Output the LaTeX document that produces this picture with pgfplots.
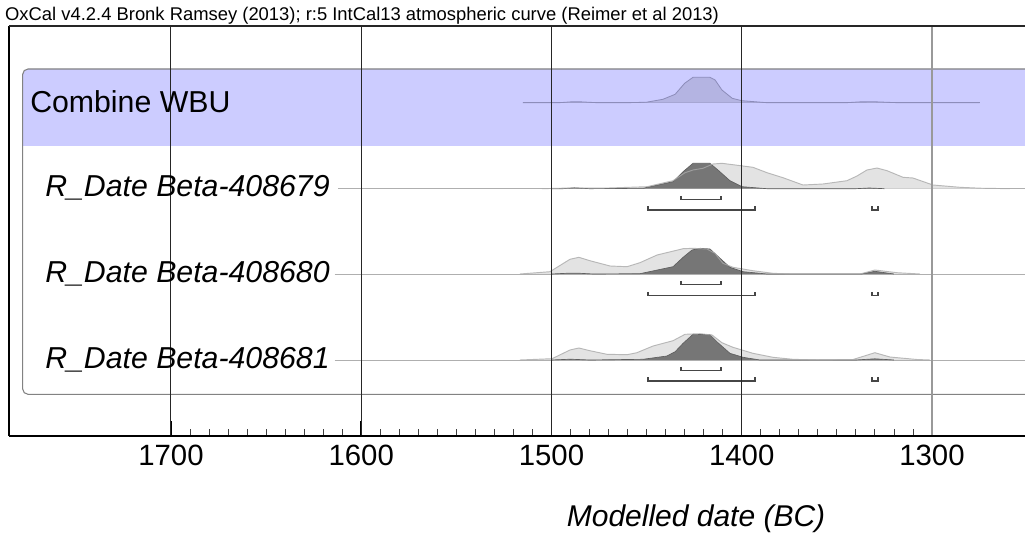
\documentclass[border=0pt]{standalone}
\usepackage{fontspec}
\setmainfont{Liberation Sans}
\usepackage{pgfplots}
\pgfplotsset{compat=1.18}
\definecolor{bandblue}{RGB}{204,204,255}
\definecolor{combfill}{RGB}{180,180,226}
\definecolor{combline}{RGB}{140,140,185}
\definecolor{lightfill}{RGB}{227,227,227}
\definecolor{lightline}{RGB}{170,170,170}
\definecolor{darkfill}{RGB}{118,118,118}
\definecolor{darkline}{RGB}{95,95,95}
\definecolor{brk}{RGB}{70,70,70}
\definecolor{rectline}{RGB}{130,130,130}
\definecolor{basegray}{RGB}{175,175,175}
\begin{document}
\begin{tikzpicture}
\begin{axis}[
 scale only axis, width=762pt, height=307.5pt,
 x dir=reverse, xmin=1251.1, xmax=1785.15,
 ymin=-436, ymax=-26,
 clip=false, axis line style={draw=none},
 ytick=\empty, xtick={1300,1400,1500,1600,1700},
 minor x tick num=9, tick align=inside, xtick pos=left,
 major tick length=11.25pt, minor tick length=5.25pt,
 major tick style={line width=1.1pt, black},
 minor tick style={line width=0.6pt, black!75},
 tick label style={font=\fontsize{22}{26}\selectfont},
 xticklabel style={anchor=base, yshift=-21.75pt},
 /pgf/number format/assume math mode=true,
 /pgf/number format/set thousands separator={},
 every axis plot/.append style={mark=none},
]
% group box and band
\fill[white, rounded corners=4pt] (axis cs:1240,-69) -- (axis cs:1777.95,-69) -- (axis cs:1777.95,-394.3) -- (axis cs:1240,-394.3) -- cycle;
\fill[bandblue] (axis cs:1240,-146) -- (axis cs:1777.95,-146) [rounded corners=4pt] -- (axis cs:1777.95,-69) -- (axis cs:1240,-69) [sharp corners] -- cycle;
\draw[rectline, line width=0.8pt, rounded corners=4pt] (axis cs:1240,-69) -- (axis cs:1777.95,-69) -- (axis cs:1777.95,-394.3) -- (axis cs:1240,-394.3);

% Combine WBU
\addplot[combline, line width=0.6pt] coordinates {(1515,-102.7) (1275,-102.7)};
\addplot[fill=combfill, draw=combline, line width=0.6pt] coordinates {(1515,-102.7) (1496,-102.7) (1490,-101.9) (1484,-101.9) (1476,-102.7) (1460,-102.7) (1450,-102.2) (1441.4,-99.3) (1435,-94.3) (1430,-83.3) (1425.6,-77.3) (1416.7,-77.3) (1414,-80) (1410.4,-90) (1405,-98.3) (1400,-100.7) (1386.7,-102.7) (1345,-102.7) (1338,-101.9) (1330,-101.8) (1318,-102.7) (1275,-102.7)};

% R_Date Beta-408679
\addplot[basegray, line width=0.7pt] coordinates {(1612,-188.7) (1251.1,-188.7)};
\addplot[fill=lightfill, draw=none] coordinates {(1505,-188.7) (1490,-188) (1470,-188) (1449.8,-186.7) (1436.1,-180.7) (1429.8,-172.7) (1425.6,-170) (1420.4,-168.3) (1415.1,-164) (1410.4,-163.3) (1404.6,-164.7) (1394.1,-167.3) (1386.7,-172.7) (1378.3,-177.7) (1367.8,-185) (1357.3,-184) (1344.7,-180.7) (1339.4,-176) (1334.2,-170) (1328.9,-168) (1323.6,-170.7) (1315.2,-177.3) (1310,-178) (1299.5,-185) (1285.3,-187.3) (1274.8,-188.2) (1259,-188.7)};
\addplot[fill=darkfill, draw=darkline, line width=0.5pt] coordinates {(1500,-188.7) (1494,-188.7) (1488,-187.8) (1480,-188.7) (1451.9,-188.3) (1436.1,-181.7) (1430.8,-171.7) (1425.6,-163.3) (1416.7,-163.3) (1412.5,-170) (1406.2,-180.7) (1399.9,-186.7) (1386.7,-188.7) (1340,-188.7) (1333,-188) (1325,-188.7)};
\addplot[lightline, line width=0.7pt, opacity=0.8] coordinates {(1505,-188.7) (1490,-188) (1470,-188) (1449.8,-186.7) (1436.1,-180.7) (1429.8,-172.7) (1425.6,-170) (1420.4,-168.3) (1415.1,-164) (1410.4,-163.3) (1404.6,-164.7) (1394.1,-167.3) (1386.7,-172.7) (1378.3,-177.7) (1367.8,-185) (1357.3,-184) (1344.7,-180.7) (1339.4,-176) (1334.2,-170) (1328.9,-168) (1323.6,-170.7) (1315.2,-177.3) (1310,-178) (1299.5,-185) (1285.3,-187.3) (1274.8,-188.2) (1259,-188.7)};
\addplot[brk, line width=1.1pt] coordinates {(1431.9,-195.8) (1431.9,-199.3) (1410.9,-199.3) (1410.9,-195.8)};
\addplot[brk, line width=1.1pt] coordinates {(1449.3,-206.5) (1449.3,-210) (1393.0,-210) (1393.0,-206.5)};
\addplot[brk, line width=1.1pt] coordinates {(1331.5,-206.5) (1331.5,-210) (1328.4,-210) (1328.4,-206.5)};

% R_Date Beta-408680
\addplot[basegray, line width=0.7pt] coordinates {(1614,-274) (1251.1,-274)};
\addplot[fill=lightfill, draw=none] coordinates {(1516.6,-274) (1500.8,-271.7) (1490.3,-259.3) (1485.6,-257.3) (1479.8,-260.7) (1469.2,-266) (1460.3,-266.7) (1453.5,-262.7) (1444.5,-255) (1430.8,-248.7) (1425.6,-248.3) (1418.3,-249) (1414.1,-253.3) (1409.9,-263.3) (1404.6,-267.3) (1394.1,-270.7) (1383.6,-273.3) (1374.6,-274) (1337.8,-274) (1330,-270) (1318.4,-272.7) (1306.3,-274)};
\addplot[fill=darkfill, draw=darkline, line width=0.5pt] coordinates {(1500,-274) (1492,-273.3) (1485,-273.3) (1478,-274) (1453.5,-273.7) (1436.1,-266.7) (1430.8,-257.3) (1426.1,-250) (1421.9,-248.3) (1416.7,-249) (1411.4,-258.3) (1406.2,-267.3) (1399.3,-271.7) (1386.7,-274) (1337,-274) (1330,-271.3) (1320,-274)};
\addplot[lightline, line width=0.7pt, opacity=0.8] coordinates {(1516.6,-274) (1500.8,-271.7) (1490.3,-259.3) (1485.6,-257.3) (1479.8,-260.7) (1469.2,-266) (1460.3,-266.7) (1453.5,-262.7) (1444.5,-255) (1430.8,-248.7) (1425.6,-248.3) (1418.3,-249) (1414.1,-253.3) (1409.9,-263.3) (1404.6,-267.3) (1394.1,-270.7) (1383.6,-273.3) (1374.6,-274) (1337.8,-274) (1330,-270) (1318.4,-272.7) (1306.3,-274)};
\addplot[brk, line width=1.1pt] coordinates {(1431.9,-281) (1431.9,-284.5) (1410.9,-284.5) (1410.9,-281)};
\addplot[brk, line width=1.1pt] coordinates {(1449.3,-292) (1449.3,-295.5) (1393.0,-295.5) (1393.0,-292)};
\addplot[brk, line width=1.1pt] coordinates {(1331.5,-292) (1331.5,-295.5) (1328.4,-295.5) (1328.4,-292)};

% R_Date Beta-408681
\addplot[basegray, line width=0.7pt] coordinates {(1614,-360) (1251.1,-360)};
\addplot[fill=lightfill, draw=none] coordinates {(1516.6,-360) (1499.7,-358.7) (1490.3,-350) (1485.6,-348) (1479.8,-350.7) (1470.8,-354.3) (1460.3,-354.7) (1455.1,-352.7) (1446.6,-346) (1436.1,-340.7) (1429.8,-334.3) (1421.9,-333.7) (1415.6,-335) (1410.4,-342.7) (1404.6,-347.3) (1394.1,-353.3) (1383.6,-357.3) (1373.1,-359.3) (1360.4,-360) (1341.5,-359.5) (1330,-352.7) (1322.1,-357) (1307.9,-359.5) (1301.1,-360)};
\addplot[fill=darkfill, draw=darkline, line width=0.5pt] coordinates {(1500,-360) (1490,-359.2) (1480,-360) (1451.9,-359.3) (1439.3,-356) (1435,-351.7) (1430.8,-343.3) (1425.6,-334.3) (1416.7,-334.7) (1412.5,-342.7) (1406.2,-353.3) (1399.3,-357.3) (1390.4,-360) (1340,-360) (1330,-358.8) (1320,-360)};
\addplot[lightline, line width=0.7pt, opacity=0.8] coordinates {(1516.6,-360) (1499.7,-358.7) (1490.3,-350) (1485.6,-348) (1479.8,-350.7) (1470.8,-354.3) (1460.3,-354.7) (1455.1,-352.7) (1446.6,-346) (1436.1,-340.7) (1429.8,-334.3) (1421.9,-333.7) (1415.6,-335) (1410.4,-342.7) (1404.6,-347.3) (1394.1,-353.3) (1383.6,-357.3) (1373.1,-359.3) (1360.4,-360) (1341.5,-359.5) (1330,-352.7) (1322.1,-357) (1307.9,-359.5) (1301.1,-360)};
\addplot[brk, line width=1.1pt] coordinates {(1431.9,-366.8) (1431.9,-370.3) (1410.9,-370.3) (1410.9,-366.8)};
\addplot[brk, line width=1.1pt] coordinates {(1449.3,-377.5) (1449.3,-381) (1393.0,-381) (1393.0,-377.5)};
\addplot[brk, line width=1.1pt] coordinates {(1331.5,-377.5) (1331.5,-381) (1328.4,-381) (1328.4,-377.5)};

% grid lines
\draw[black!85, line width=0.75pt] (axis cs:1700,-26) -- (axis cs:1700,-436);
\draw[black!85, line width=0.75pt] (axis cs:1600,-26) -- (axis cs:1600,-436);
\draw[black!85, line width=0.75pt] (axis cs:1500,-26) -- (axis cs:1500,-436);
\draw[black!85, line width=0.75pt] (axis cs:1400,-26) -- (axis cs:1400,-436);
\draw[black!40, line width=1.3pt] (axis cs:1300,-26) -- (axis cs:1300,-436);

% frame
\draw[black, line width=1.5pt] (axis cs:1785.15,-26) -- (axis cs:1785.15,-436);
\draw[black!85, line width=1.1pt] (axis cs:1785.15,-26) -- (axis cs:1251.1,-26);
\draw[black, line width=1.5pt] (axis cs:1785.15,-436) -- (axis cs:1251.1,-436);

% texts
\node[anchor=base west, inner sep=0pt, font=\fontsize{13.8}{16}\selectfont] at (axis cs:1787.3,-21) {OxCal v4.2.4 Bronk Ramsey (2013); r:5 IntCal13 atmospheric curve (Reimer et al 2013)};
\node[anchor=base west, inner sep=0pt, font=\fontsize{22.7}{26}\selectfont] at (axis cs:1774.1,-112.7) {Combine WBU};
\node[anchor=base west, inner sep=0pt, font=\fontsize{22.7}{26}\selectfont\itshape] at (axis cs:1766.2,-196.7) {R\_Date Beta-408679};
\node[anchor=base west, inner sep=0pt, font=\fontsize{22.7}{26}\selectfont\itshape] at (axis cs:1766.2,-282.3) {R\_Date Beta-408680};
\node[anchor=base west, inner sep=0pt, font=\fontsize{22.7}{26}\selectfont\itshape] at (axis cs:1766.2,-368.2) {R\_Date Beta-408681};
\node[anchor=base, inner sep=0pt, font=\fontsize{22.5}{26}\selectfont\itshape] at (axis cs:1424,-526.7) {Modelled date (BC)};

\coordinate (bbA) at (axis cs:1789.88,0);
\coordinate (bbB) at (axis cs:1251.1,-535);
\end{axis}
\pgfresetboundingbox
\path (bbA) rectangle (bbB);
\end{tikzpicture}
\end{document}
